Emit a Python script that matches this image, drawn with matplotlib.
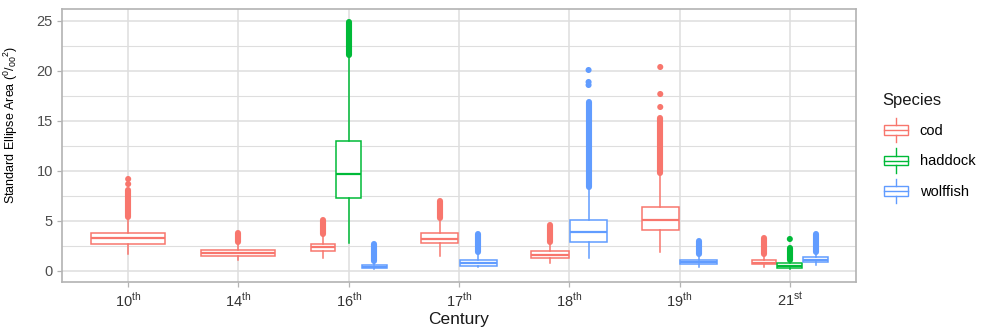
import matplotlib
matplotlib.use("Agg")
import matplotlib.pyplot as plt
from matplotlib.patches import Rectangle, Patch
from matplotlib.lines import Line2D
from matplotlib.legend_handler import HandlerBase

plt.rcParams['font.family'] = ['Liberation Sans', 'DejaVu Sans']
plt.rcParams['mathtext.fontset'] = 'custom'
plt.rcParams['mathtext.rm'] = 'Liberation Sans'

# ---------------- data ----------------
centuries = ['10th', '14th', '16th', '17th', '18th', '19th', '21st']
century_labels = [r'10$^{\mathregular{th}}$', r'14$^{\mathregular{th}}$', r'16$^{\mathregular{th}}$',
                  r'17$^{\mathregular{th}}$', r'18$^{\mathregular{th}}$', r'19$^{\mathregular{th}}$',
                  r'21$^{\mathregular{st}}$']
species = ['cod', 'haddock', 'wolffish']
species_colors = ['#F8766D', '#00BA38', '#619CFF']

box_century = ['10th', '14th', '16th', '16th', '16th', '17th', '17th',
               '18th', '18th', '19th', '19th', '21st', '21st', '21st']
box_species = ['cod', 'cod', 'cod', 'haddock', 'wolffish', 'cod', 'wolffish',
               'cod', 'wolffish', 'cod', 'wolffish', 'cod', 'haddock', 'wolffish']
whisker_low = [1.70, 1.10, 1.33, 2.77, 0.25, 1.55, 0.45, 0.80, 1.33, 1.93, 0.45, 0.45, 0.20, 0.60]
q1 = [2.67, 1.55, 2.05, 7.33, 0.35, 2.77, 0.55, 1.30, 2.93, 4.13, 0.70, 0.67, 0.33, 0.93]
median = [3.30, 1.85, 2.40, 9.73, 0.45, 3.23, 0.80, 1.63, 3.87, 5.10, 0.90, 0.85, 0.50, 1.15]
q3 = [3.83, 2.10, 2.75, 12.97, 0.60, 3.80, 1.13, 1.97, 5.13, 6.37, 1.10, 1.10, 0.77, 1.40]
whisker_high = [5.30, 2.80, 3.60, 21.40, 0.90, 5.20, 1.80, 2.80, 8.20, 9.60, 1.60, 1.60, 1.00, 1.80]
# dense runs of outliers (lowest and highest outlier of each continuous run)
outlier_low = [5.40, 2.90, 3.70, 21.60, 1.00, 5.30, 1.90, 2.90, 8.40, 9.80, 1.70, 1.70, 1.10, 1.90]
outlier_high = [8.10, 3.80, 5.10, 24.90, 2.70, 7.00, 3.70, 4.60, 16.90, 15.30, 3.00, 3.30, 2.30, 3.70]
# isolated outliers
extra_outlier_box = [0, 0, 8, 8, 8, 9, 9, 9, 12]
extra_outlier_value = [8.70, 9.20, 18.60, 18.90, 20.10, 16.40, 17.70, 20.40, 3.20]

# ---------------- figure ----------------
fig = plt.figure(figsize=(9.84, 3.28), dpi=100)
ax = fig.add_axes([62 / 984, 46 / 328, 794 / 984, 273 / 328])

grid_c = '#DEDEDE'
ax.set_facecolor('white')
dodge_total = 0.7

for i in range(len(box_century)):
    ci = centuries.index(box_century[i])
    present = [box_species[j] for j in range(len(box_century)) if box_century[j] == box_century[i]]
    n = len(present)
    k = present.index(box_species[i])
    slot = dodge_total / n
    pos = ci - dodge_total / 2 + (k + 0.5) * slot
    col = species_colors[species.index(box_species[i])]
    stats = [dict(whislo=whisker_low[i], q1=q1[i], med=median[i], q3=q3[i], whishi=whisker_high[i], fliers=[])]
    ax.bxp(stats, positions=[pos], widths=slot * 0.96, showfliers=False, showcaps=False,
           patch_artist=True,
           boxprops=dict(facecolor='white', edgecolor=col, linewidth=1.1),
           whiskerprops=dict(color=col, linewidth=1.1),
           medianprops=dict(color=col, linewidth=1.6),
           manage_ticks=False, zorder=3)
    lc = ax.vlines([pos], [outlier_low[i]], [outlier_high[i]], colors=col, linewidth=4.4, zorder=4)
    lc.set_capstyle('round')
    ex = [extra_outlier_value[j] for j in range(len(extra_outlier_box)) if extra_outlier_box[j] == i]
    if ex:
        ax.scatter([pos] * len(ex), ex, s=19, color=col, edgecolors='none', zorder=4)

ax.set_xlim(-0.6, 6.6)
ax.set_ylim(-1.1, 26.2)
ax.set_xticks(range(len(centuries)))
ax.set_xticklabels(century_labels)
ax.set_yticks([0, 5, 10, 15, 20, 25])
ax.set_yticks([2.5, 7.5, 12.5, 17.5, 22.5], minor=True)
ax.grid(True, which='major', color=grid_c, linewidth=1.1, zorder=0)
ax.grid(True, which='minor', axis='y', color=grid_c, linewidth=0.8, zorder=0)
ax.set_axisbelow(True)
ax.tick_params(axis='both', which='major', length=3.5, color='#B3B3B3', width=0.9,
               labelsize=10.5, labelcolor='#333333', pad=3)
ax.tick_params(axis='y', which='minor', length=0)
ax.tick_params(axis='y', labelcolor='#4D4D4D')
for s in ax.spines.values():
    s.set_color('#B3B3B3')
    s.set_linewidth(1.2)

ax.set_xlabel('Century', fontsize=12.5, color='#1A1A1A', labelpad=2)
ax.set_ylabel(r'Standard Ellipse Area ($^{\mathregular{0}}$/$_{\mathregular{00}}$$^{\mathregular{2}}$)',
              fontsize=9, color='black')
ax.yaxis.set_label_coords(-42 / 794, 0.575)


class BoxHandler(HandlerBase):
    def create_artists(self, legend, orig_handle, xdescent, ydescent, width, height, fontsize, trans):
        col = orig_handle.get_edgecolor()
        x0 = -xdescent
        y0 = -ydescent
        bw = width
        bh = height * 0.45
        by = y0 + (height - bh) / 2
        cx = x0 + bw / 2
        rect = Rectangle((x0, by), bw, bh, facecolor='white', edgecolor=col, linewidth=1.0, transform=trans)
        med = Line2D([x0, x0 + bw], [by + bh / 2] * 2, color=col, linewidth=1.0, transform=trans)
        w1 = Line2D([cx, cx], [y0 - 1, by], color=col, linewidth=1.0, transform=trans)
        w2 = Line2D([cx, cx], [by + bh, y0 + height + 1], color=col, linewidth=1.0, transform=trans)
        return [rect, med, w1, w2]


fig.text(882 / 984, 1 - 100 / 328, 'Species', fontsize=12, ha='left', va='center', color='#1A1A1A')
handles = [Patch(facecolor='white', edgecolor=c) for c in species_colors]
leg = fig.legend(handles, species, handler_map={Patch: BoxHandler()},
                 loc='center left', bbox_to_anchor=(884 / 984, 1 - 160.5 / 328),
                 frameon=False, fontsize=10.5,
                 handlelength=1.65, handleheight=1.9, labelspacing=0.6, handletextpad=0.8,
                 borderpad=0, borderaxespad=0)

fig.savefig('out.png', dpi=100)
